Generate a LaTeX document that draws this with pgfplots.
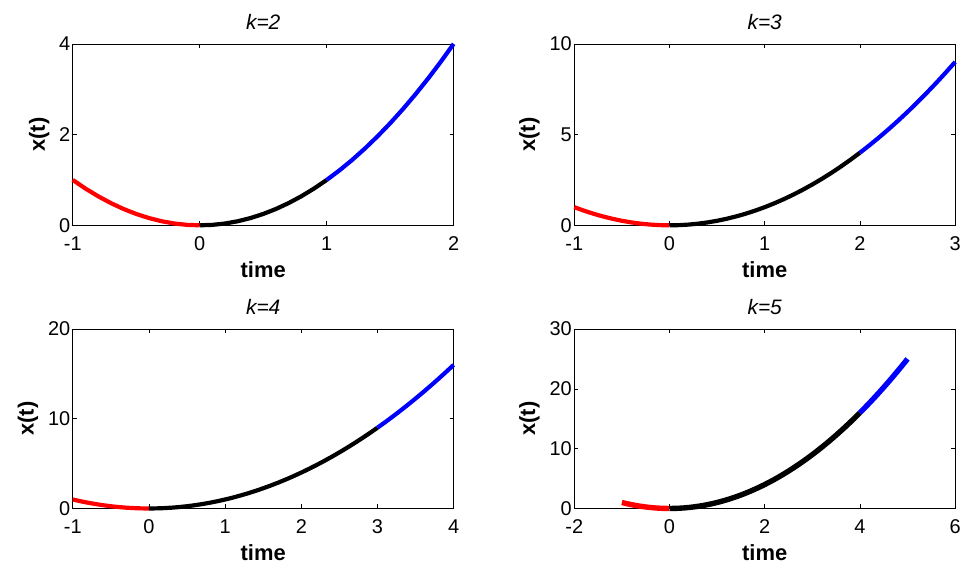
\documentclass[border=0pt]{standalone}
\usepackage{fontspec}
\setmainfont{Liberation Sans}
\usepackage{pgfplots}
\usepackage{pgfplotstable}
\pgfplotsset{compat=1.18}

% samples of x(t) = t^2 on a 0.1 grid
\pgfplotstableread{
t x
-1.0 1.00
-0.9 0.81
-0.8 0.64
-0.7 0.49
-0.6 0.36
-0.5 0.25
-0.4 0.16
-0.3 0.09
-0.2 0.04
-0.1 0.01
0.0 0.00
0.1 0.01
0.2 0.04
0.3 0.09
0.4 0.16
0.5 0.25
0.6 0.36
0.7 0.49
0.8 0.64
0.9 0.81
1.0 1.00
1.1 1.21
1.2 1.44
1.3 1.69
1.4 1.96
1.5 2.25
1.6 2.56
1.7 2.89
1.8 3.24
1.9 3.61
2.0 4.00
2.1 4.41
2.2 4.84
2.3 5.29
2.4 5.76
2.5 6.25
2.6 6.76
2.7 7.29
2.8 7.84
2.9 8.41
3.0 9.00
3.1 9.61
3.2 10.24
3.3 10.89
3.4 11.56
3.5 12.25
3.6 12.96
3.7 13.69
3.8 14.44
3.9 15.21
4.0 16.00
4.1 16.81
4.2 17.64
4.3 18.49
4.4 19.36
4.5 20.25
4.6 21.16
4.7 22.09
4.8 23.04
4.9 24.01
5.0 25.00
}\traj

\pgfplotsset{
  panel/.style={
    scale only axis,
    width=382pt, height=182pt,
    axis line style={black, line width=0.6pt},
    tick align=inside,
    xtick pos=both, ytick pos=both,
    xticklabel pos=bottom, yticklabel pos=left,
    major tick length=4pt,
    tick style={black, line width=0.6pt},
    /pgf/number format/assume math mode=true,
    ticklabel style={font=\fontsize{20}{22}\selectfont},
    xticklabel style={yshift=-8pt},
    yticklabel style={xshift=1pt},
    xlabel={time}, ylabel={x(t)},
    label style={font=\fontsize{22}{24}\selectfont\bfseries},
    xlabel style={yshift=-4pt},
    ylabel style={yshift=3pt},
    title style={font=\fontsize{21}{23}\selectfont\itshape, yshift=5pt},
    clip=false,
  },
  seg/.style={line width=4.2pt, line join=round},
}

\begin{document}
\begin{tikzpicture}
\path[fill=white] (0pt,0pt) rectangle (964pt,572pt);

% k = 2
\begin{axis}[panel, at={(73pt,346pt)}, anchor=south west, title={k=2},
  xmin=-1, xmax=2, ymin=0, ymax=4, xtick={-1,0,1,2}, ytick={0,2,4}]
  \addplot[seg, red, restrict x to domain=-1:0] table[x=t,y=x] {\traj};
  \addplot[seg, black, restrict x to domain=0:1] table[x=t,y=x] {\traj};
  \addplot[seg, blue, restrict x to domain=1:2] table[x=t,y=x] {\traj};
\end{axis}

% k = 3
\begin{axis}[panel, at={(576pt,346pt)}, anchor=south west, title={k=3},
  xmin=-1, xmax=3, ymin=0, ymax=10, xtick={-1,0,1,2,3}, ytick={0,5,10}]
  \addplot[seg, red, restrict x to domain=-1:0] table[x=t,y=x] {\traj};
  \addplot[seg, black, restrict x to domain=0:2] table[x=t,y=x] {\traj};
  \addplot[seg, blue, restrict x to domain=2:3] table[x=t,y=x] {\traj};
\end{axis}

% k = 4
\begin{axis}[panel, at={(73pt,62pt)}, anchor=south west, title={k=4}, height=180pt,
  xmin=-1, xmax=4, ymin=0, ymax=20, xtick={-1,0,1,2,3,4}, ytick={0,10,20}]
  \addplot[seg, red, restrict x to domain=-1:0] table[x=t,y=x] {\traj};
  \addplot[seg, black, restrict x to domain=0:3] table[x=t,y=x] {\traj};
  \addplot[seg, blue, restrict x to domain=3:4] table[x=t,y=x] {\traj};
\end{axis}

% k = 5
\begin{axis}[panel, at={(576pt,62pt)}, anchor=south west, title={k=5}, height=180pt,
  xmin=-2, xmax=6, ymin=0, ymax=30, xtick={-2,0,2,4,6}, ytick={0,10,20,30}]
  \addplot[seg, red, line width=5.4pt, restrict x to domain=-1:0] table[x=t,y=x] {\traj};
  \addplot[seg, black, line width=5.4pt, restrict x to domain=0:4] table[x=t,y=x] {\traj};
  \addplot[seg, blue, line width=5.4pt, restrict x to domain=4:5] table[x=t,y=x] {\traj};
\end{axis}
\end{tikzpicture}
\end{document}
